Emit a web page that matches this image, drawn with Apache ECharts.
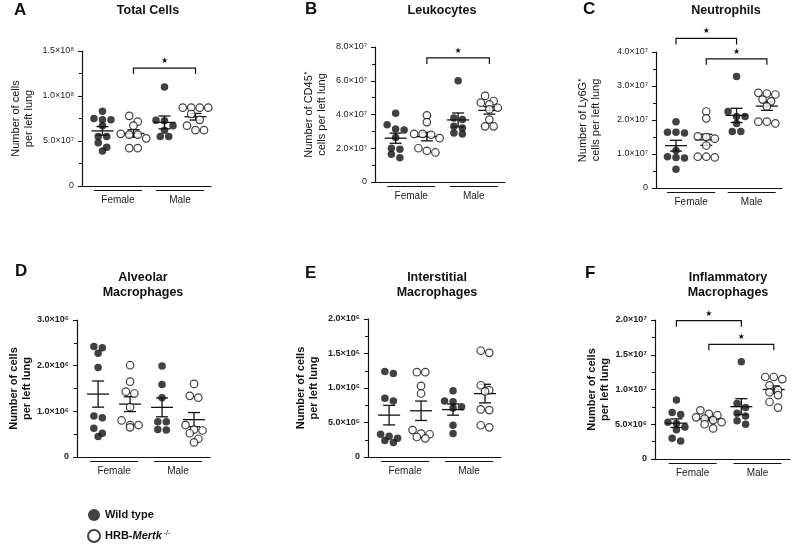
<!DOCTYPE html>
<html>
<head>
<meta charset="utf-8">
<script src="https://cdn.jsdelivr.net/npm/echarts@6/dist/echarts.min.js"></script>
<style>
  html, body { margin: 0; background: #fff; }
  #chart { width: 796px; height: 545px; }
</style>
</head>
<body>
<div id="chart"></div>
<script>
// groups left to right in every panel: WT female, KO female, WT male, KO male
const groupX = [1, 2, 3, 4];
const sexNames = ["Female", "Male"];
const sexCentres = [1.5, 3.5];
const genotypes = ["Wild type", "HRB-Mertk"];

const panelLetters = ["A", "B", "C", "D", "E", "F"];
const panelTitles = [
    "Total Cells",
    "Leukocytes",
    "Neutrophils",
    "Alveolar\nMacrophages",
    "Interstitial\nMacrophages",
    "Inflammatory\nMacrophages"
];
const yNames = [
    "Number of cells\nper left lung",
    "Number of CD45⁺\ncells per left lung",
    "Number of Ly6G⁺\ncells per left lung",
    "Number of cells\nper left lung",
    "Number of cells\nper left lung",
    "Number of cells\nper left lung"
];
const yMax = [15, 8, 4, 3, 20, 20];
const yStep = [5, 2, 1, 1, 5, 5];
const yTickLabels = [
    ["0", "5.0×10⁷", "1.0×10⁸", "1.5×10⁸"],
    ["0", "2.0×10⁷", "4.0×10⁷", "6.0×10⁷", "8.0×10⁷"],
    ["0", "1.0×10⁷", "2.0×10⁷", "3.0×10⁷", "4.0×10⁷"],
    ["0", "1.0×10⁶", "2.0×10⁶", "3.0×10⁶"],
    ["0", "5.0×10⁵", "1.0×10⁶", "1.5×10⁶", "2.0×10⁶"],
    ["0", "5.0×10⁶", "1.0×10⁷", "1.5×10⁷", "2.0×10⁷"]
];

// values in the panel's unit: A-C x10^7, D x10^6, E x10^5, F x10^6
const totalCells = [
    [8.3, 7.5, 7.35, 7.35, 6.7, 5.5, 5.5, 4.8, 4.3, 3.9],
    [7.8, 7.15, 6.7, 5.8, 5.7, 5.7, 5.3, 4.2, 4.2],
    [11.0, 7.3, 7.25, 6.7, 6.2, 5.5, 5.5],
    [8.7, 8.7, 8.7, 8.7, 8.0, 7.35, 6.7, 6.2, 6.2]
];
const leukocytes = [
    [4.08, 3.4, 3.14, 3.08, 2.64, 2.0, 1.94, 1.64, 1.44],
    [3.95, 3.55, 2.85, 2.85, 2.8, 2.6, 2.0, 1.85, 1.75],
    [6.0, 3.8, 3.7, 3.3, 3.2, 2.9, 2.85],
    [5.1, 4.8, 4.7, 4.6, 4.4, 4.3, 3.7, 3.3, 3.3]
];
const neutrophils = [
    [1.95, 1.64, 1.64, 1.62, 1.1, 0.92, 0.9, 0.88, 0.55],
    [2.25, 2.05, 1.52, 1.5, 1.45, 1.25, 0.92, 0.92, 0.9],
    [3.28, 2.25, 2.1, 2.1, 1.9, 1.66, 1.66],
    [2.8, 2.78, 2.75, 2.6, 2.55, 2.4, 1.95, 1.95, 1.9]
];
const alveolarMac = [
    [2.42, 2.39, 2.27, 1.96, 0.9, 0.86, 0.63, 0.52, 0.45],
    [2.01, 1.65, 1.43, 1.39, 1.09, 0.8, 0.7, 0.7, 0.65],
    [1.99, 1.59, 1.3, 0.77, 0.77, 0.6, 0.59],
    [1.6, 1.34, 1.3, 0.7, 0.6, 0.58, 0.52, 0.4, 0.32]
];
const interstitialMac = [
    [12.4, 12.1, 8.5, 8.1, 3.3, 3.0, 2.7, 2.4, 2.1],
    [12.3, 12.3, 10.3, 9.2, 3.9, 3.4, 3.3, 2.9, 2.7],
    [9.6, 8.1, 8.0, 7.3, 7.1, 4.6, 3.4],
    [15.4, 15.1, 10.4, 9.7, 9.5, 6.9, 6.8, 4.6, 4.3]
];
const inflammatoryMac = [
    [8.5, 6.7, 6.4, 5.3, 5.1, 4.6, 4.2, 3.0, 2.6],
    [7.0, 6.5, 6.3, 6.0, 5.8, 5.6, 5.3, 5.0, 4.4],
    [14.0, 8.0, 7.4, 6.6, 6.2, 5.5, 5.0],
    [11.8, 11.8, 11.5, 10.6, 9.9, 9.6, 9.2, 8.2, 7.4]
];
const panelData = [totalCells, leukocytes, neutrophils, alveolarMac, interstitialMac, inflammatoryMac];

// significance brackets: [from group, to group, height]
const sigBrackets = [
    [[2, 4, 13.1]],
    [[2, 4, 7.35]],
    [[1, 3, 4.4], [2, 4, 3.8]],
    [],
    [],
    [[1, 3, 19.9], [2, 4, 16.5]]
];

// layout
const INK = "#111";
const FONT = "Arial, 'Liberation Sans', sans-serif";
const xMin = 0.34, xMax = 4.5;
const grids = [
    { left: 82, top: 51, width: 129, height: 135 },
    { left: 375, top: 47, width: 130, height: 135 },
    { left: 656, top: 52, width: 126, height: 136 },
    { left: 77, top: 320, width: 133, height: 137 },
    { left: 368, top: 319, width: 133, height: 138 },
    { left: 655, top: 320, width: 135, height: 139 }
];
const nameGaps = [47, 47, 54, 44, 48, 42];
const titlePos = [[148, 3], [442, 3], [726, 3], [143, 270], [437, 270], [728, 270]];
const letterPos = [[14, 2], [305, 1], [583, 1], [15, 263], [305, 265], [585, 265]];
const SYMBOL = 7.5, ROW_PX = 6, STEP_PX = 8.5;

const mean = a => a.reduce((s, v) => s + v, 0) / a.length;
const sem = a => {
    const m = mean(a);
    const sd = Math.sqrt(a.reduce((s, v) => s + (v - m) * (v - m), 0) / (a.length - 1));
    return sd / Math.sqrt(a.length);
};

// GraphPad-like scatter: close values share a row and are spread symmetrically
function swarm(values, centre, pxY, pxX) {
    const sorted = values.slice().sort((a, b) => b - a);
    const rows = [];
    sorted.forEach(v => {
        const row = rows[rows.length - 1];
        if (row && (row[0] - v) * pxY < ROW_PX) row.push(v);
        else rows.push([v]);
    });
    const pts = [];
    rows.forEach(row => row.forEach((v, j) => {
        pts.push([centre + (j - (row.length - 1) / 2) * STEP_PX / pxX, v]);
    }));
    return pts;
}

function renderMean(params, api) {
    const x = api.value(0), m = api.value(1), e = api.value(2);
    const c = api.coord([x, m]), hi = api.coord([x, m + e]), lo = api.coord([x, m - e]);
    const s = { stroke: INK, lineWidth: 1.3 };
    return {
        type: "group",
        children: [
            { type: "line", shape: { x1: c[0] - 11, y1: c[1], x2: c[0] + 11, y2: c[1] }, style: s },
            { type: "line", shape: { x1: c[0], y1: hi[1], x2: c[0], y2: lo[1] }, style: s },
            { type: "line", shape: { x1: c[0] - 6, y1: hi[1], x2: c[0] + 6, y2: hi[1] }, style: s },
            { type: "line", shape: { x1: c[0] - 6, y1: lo[1], x2: c[0] + 6, y2: lo[1] }, style: s }
        ]
    };
}

function renderSex(params, api) {
    const p = api.coord([api.value(0), 0]);
    return {
        type: "group",
        children: [
            { type: "line", shape: { x1: p[0] - 24, y1: p[1] + 4.5, x2: p[0] + 24, y2: p[1] + 4.5 },
              style: { stroke: INK, lineWidth: 1.2 } },
            { type: "text", style: { text: sexNames[params.dataIndex], x: p[0], y: p[1] + 9,
              align: "center", textAlign: "center", verticalAlign: "top", textVerticalAlign: "top",
              font: "10px " + FONT, fill: "#222" } }
        ]
    };
}

function renderBracket(params, api) {
    const a = api.coord([api.value(0), api.value(2)]);
    const b = api.coord([api.value(1), api.value(2)]);
    return {
        type: "group",
        children: [
            { type: "polyline", shape: { points: [[a[0], a[1] + 6], [a[0], a[1]], [b[0], b[1]], [b[0], b[1] + 6]] },
              style: { stroke: INK, lineWidth: 1.2, fill: null } },
            { type: "text", style: { text: "★", x: (a[0] + b[0]) / 2, y: a[1] - 3,
              align: "center", textAlign: "center", verticalAlign: "bottom", textVerticalAlign: "bottom",
              font: "8px 'DejaVu Sans', sans-serif", fill: INK } }
        ]
    };
}

const title = [];
const xAxis = [];
const yAxis = [];
const series = [];

panelData.forEach((groups, i) => {
    const g = grids[i];
    const bottomRow = i >= 3;
    title.push({
        text: panelTitles[i], left: titlePos[i][0], top: titlePos[i][1], textAlign: "center", padding: 0,
        textStyle: { fontFamily: FONT, fontSize: 12.5, fontWeight: "bold", color: INK, lineHeight: 15 }
    });
    title.push({
        text: panelLetters[i], left: letterPos[i][0], top: letterPos[i][1], padding: 0,
        textStyle: { fontFamily: FONT, fontSize: 17, fontWeight: "bold", color: INK }
    });
    xAxis.push({
        type: "value", gridIndex: i, min: xMin, max: xMax,
        axisLine: { show: true, onZero: false, lineStyle: { color: INK, width: 1.2 } },
        axisTick: { show: false }, axisLabel: { show: false }, splitLine: { show: false }
    });
    yAxis.push({
        type: "value", gridIndex: i, min: 0, max: yMax[i], interval: yStep[i],
        name: yNames[i], nameLocation: "middle", nameGap: nameGaps[i],
        nameTextStyle: { fontFamily: FONT, fontSize: 11, lineHeight: 13, color: INK,
                         fontWeight: bottomRow ? "bold" : "normal" },
        axisLine: { show: true, lineStyle: { color: INK, width: 1.2 } },
        axisTick: { show: true, length: 4, lineStyle: { color: INK } },
        minorTick: { show: true, splitNumber: 2, length: 3, lineStyle: { color: INK } },
        splitLine: { show: false }, minorSplitLine: { show: false },
        axisLabel: {
            margin: 8, fontFamily: FONT, fontSize: 9, color: "#222",
            fontWeight: bottomRow ? "bold" : "normal",
            formatter: v => yTickLabels[i][Math.round(v / yStep[i])]
        }
    });

    const pxY = g.height / yMax[i];
    const pxX = g.width / (xMax - xMin);
    const pts = groups.map((vals, j) => swarm(vals, groupX[j], pxY, pxX));

    series.push({
        type: "scatter", name: genotypes[0], xAxisIndex: i, yAxisIndex: i,
        data: pts[0].concat(pts[2]), symbolSize: SYMBOL, itemStyle: { color: INK }
    });
    series.push({
        type: "scatter", name: genotypes[1], xAxisIndex: i, yAxisIndex: i,
        data: pts[1].concat(pts[3]), symbolSize: SYMBOL,
        itemStyle: { color: "#fff", borderColor: INK, borderWidth: 1.2 }
    });
    series.push({
        type: "custom", xAxisIndex: i, yAxisIndex: i, silent: true, renderItem: renderMean,
        data: groups.map((vals, j) => [groupX[j], mean(vals), sem(vals)])
    });
    series.push({
        type: "custom", xAxisIndex: i, yAxisIndex: i, silent: true, renderItem: renderSex,
        data: sexCentres.map(c => [c, 0])
    });
    if (sigBrackets[i].length) {
        series.push({
            type: "custom", xAxisIndex: i, yAxisIndex: i, silent: true, renderItem: renderBracket,
            data: sigBrackets[i].map(b => [groupX[b[0] - 1], groupX[b[1] - 1], b[2]])
        });
    }
});

const chart = echarts.init(document.getElementById("chart"));
chart.setOption({
    animation: false,
    backgroundColor: "#fff",
    title: title,
    grid: grids,
    xAxis: xAxis,
    yAxis: yAxis,
    legend: {
        data: genotypes, orient: "vertical", left: 87, top: 509, height: 80, padding: 0,
        itemWidth: 12, itemHeight: 12, itemGap: 8,
        formatter: name => name === "HRB-Mertk" ? "{n|HRB-}{i|Mertk}{s| -/-}" : "{n|" + name + "}",
        textStyle: {
            color: INK,
            rich: {
                n: { fontFamily: FONT, fontSize: 11, fontWeight: "bold", color: INK },
                i: { fontFamily: FONT, fontSize: 11, fontWeight: "bold", fontStyle: "italic", color: INK },
                s: { fontFamily: FONT, fontSize: 7, color: INK, padding: [0, 0, 6, 0] }
            }
        }
    },
    series: series
});
</script>
</body>
</html>
